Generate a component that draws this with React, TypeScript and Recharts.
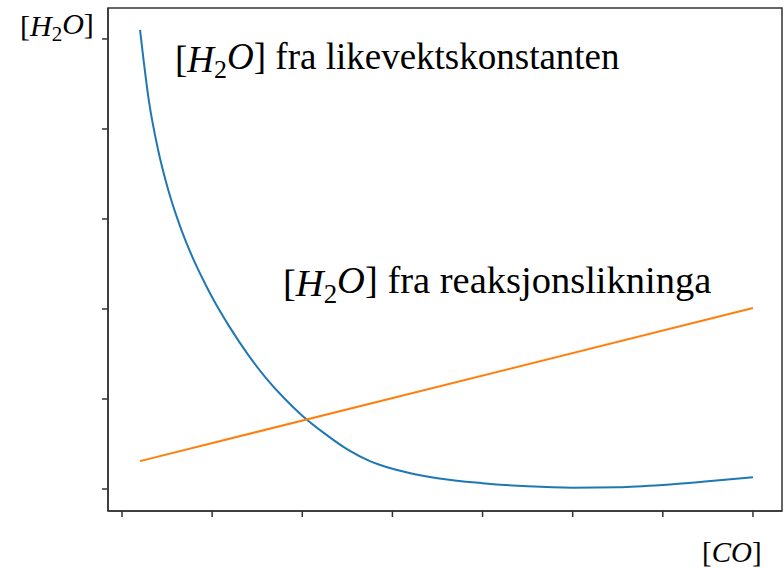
import { LineChart, Line, XAxis, YAxis, ReferenceArea } from 'recharts'

const coValues = [0.2, 0.3, 0.4, 0.5, 0.6, 0.7, 0.8, 0.9, 1.0, 1.2, 1.4, 1.6, 1.8, 2.0, 2.25, 2.5, 2.75, 3.0, 3.25, 3.5, 4.0, 4.5, 5.0, 5.5, 6.0, 6.5, 7.0]
const fromEquilibrium = [5.1, 4.3, 3.77, 3.37, 3.045, 2.77, 2.535, 2.325, 2.13, 1.79, 1.49, 1.23, 1.008, 0.815, 0.615, 0.44, 0.31, 0.225, 0.165, 0.12, 0.065, 0.03, 0.015, 0.02, 0.045, 0.085, 0.13]
const reactionCo = [0.2, 7.0]
const fromReaction = [0.31, 2.01]
const xTicks = [0, 1, 2, 3, 4, 5, 6, 7]
const yTicks = [0, 1, 2, 3, 4, 5]

const data = coValues.map((x, i) => ({ x, k: fromEquilibrium[i] }))
const lineData = reactionCo.map((x, i) => ({ x, r: fromReaction[i] }))

const X_DOMAIN: [number, number] = [-0.1553, 7.322]
const Y_DOMAIN: [number, number] = [-0.2444, 5.344]
const AXIS = '#333'
const SERIF = 'Liberation Serif'

const H2O = () => (
  <>
    [<tspan fontStyle="italic">H</tspan>
    <tspan fontSize="0.7em" dy="0.25em">2</tspan>
    <tspan fontStyle="italic" dy="-0.25em">O</tspan>]
  </>
)

export default function App() {
  return (
    <div style={{ position: 'absolute', left: 0, top: 0, width: 784, height: 569 }}>
      <LineChart width={784} height={569} data={data} margin={{ top: 8, right: 2, left: 98, bottom: 48 }}>
        <XAxis
          type="number"
          dataKey="x"
          domain={X_DOMAIN}
          ticks={xTicks}
          allowDataOverflow
          height={10}
          tickSize={6}
          tickFormatter={() => ''}
          stroke={AXIS}
          axisLine={{ stroke: AXIS, strokeWidth: 1.5 }}
          tickLine={{ stroke: AXIS, strokeWidth: 1.5 }}
        />
        <YAxis
          type="number"
          domain={Y_DOMAIN}
          ticks={yTicks}
          allowDataOverflow
          width={10}
          tickSize={6}
          tickFormatter={() => ''}
          stroke={AXIS}
          axisLine={{ stroke: AXIS, strokeWidth: 1.5 }}
          tickLine={{ stroke: AXIS, strokeWidth: 1.5 }}
        />
        <ReferenceArea
          x1={X_DOMAIN[0]}
          x2={X_DOMAIN[1]}
          y1={Y_DOMAIN[0]}
          y2={Y_DOMAIN[1]}
          fill="none"
          stroke={AXIS}
          strokeWidth={1.5}
          ifOverflow="visible"
        />
        <Line type="monotone" dataKey="k" stroke="#1f77b4" strokeWidth={2} dot={false} isAnimationActive={false} />
        <Line data={lineData} type="linear" dataKey="r" stroke="#ff7f0e" strokeWidth={2} dot={false} isAnimationActive={false} />
      </LineChart>
      <svg width={784} height={569} style={{ position: 'absolute', left: 0, top: 0, pointerEvents: 'none' }}>
        <text x={20} y={36} fontSize={30} fontFamily={SERIF}>
          <H2O />
        </text>
        <text x={175} y={72} fontSize={37} fontFamily={SERIF}>
          <H2O /> fra likevektskonstanten
        </text>
        <text x={283} y={296} fontSize={38.5} fontFamily={SERIF}>
          <H2O /> fra reaksjonslikninga
        </text>
        <text x={702} y={562} fontSize={29} fontFamily={SERIF}>
          [<tspan fontStyle="italic">CO</tspan>]
        </text>
      </svg>
    </div>
  )
}
